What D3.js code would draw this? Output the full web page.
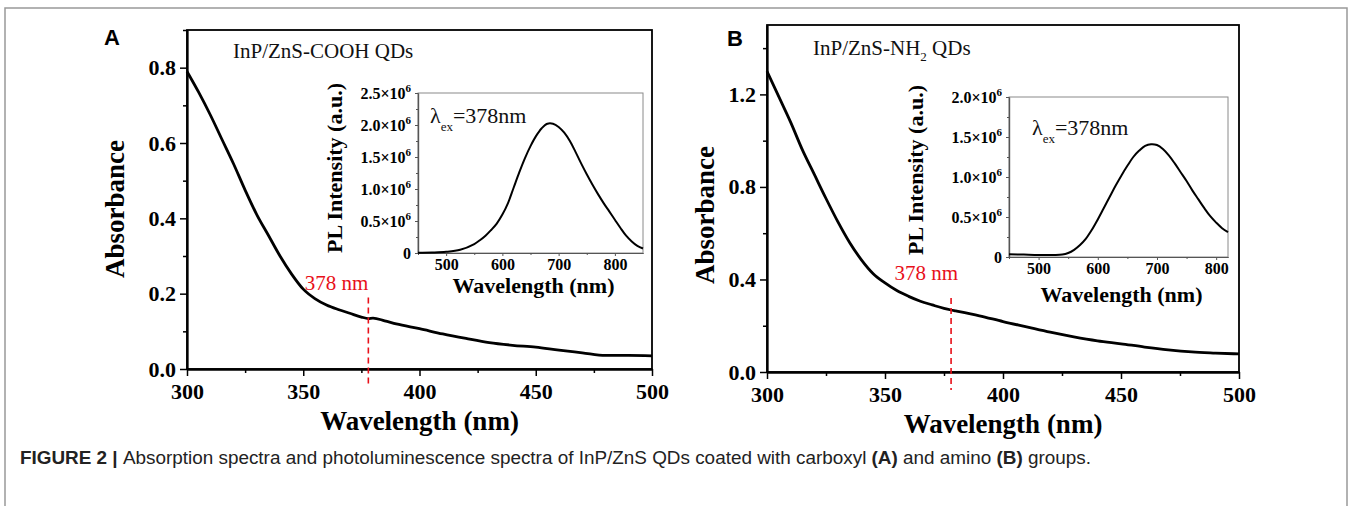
<!DOCTYPE html>
<html lang="en">
<head>
<meta charset="UTF-8" />
<title>Figure 2 - Absorption and PL spectra</title>
<script src="https://cdn.jsdelivr.net/npm/d3@7"></script>
<style>
  body { margin: 0; background: #fff; }
  svg { display: block; }
  .serif { font-family: "Liberation Serif", "Times New Roman", serif; }
</style>
</head>
<body>
<script>
// absorbance spectra (main plots)
var absWavelengthA = [300,305,310,315,320,325,330,335,340,345,350,355,360,365,370,375,378,380,385,390,400,410,420,430,440,450,460,470,480,490,500];
var absValuesA = [0.79,0.735,0.675,0.61,0.545,0.475,0.41,0.355,0.30,0.252,0.212,0.187,0.17,0.158,0.148,0.138,0.134,0.135,0.128,0.12,0.107,0.093,0.081,0.07,0.063,0.058,0.05,0.043,0.036,0.036,0.035];
var absWavelengthB = [300,305,310,315,320,325,330,335,340,345,350,355,360,365,370,375,378,380,390,400,410,420,430,440,450,460,470,480,490,500];
var absValuesB = [1.30,1.19,1.08,0.96,0.855,0.75,0.65,0.56,0.485,0.425,0.385,0.352,0.327,0.306,0.29,0.275,0.268,0.264,0.243,0.218,0.195,0.172,0.152,0.135,0.122,0.108,0.096,0.087,0.082,0.078];

// PL spectra (insets), intensity in units of 10^6
var plWavelengthA = [450,475,500,525,550,560,570,580,590,600,610,620,630,640,650,660,670,680,690,700,710,720,730,740,750,760,770,780,790,800,810,820,830,840,850];
var plValuesA = [0.005,0.008,0.018,0.05,0.14,0.2,0.27,0.36,0.46,0.6,0.78,1.02,1.26,1.48,1.67,1.83,1.95,2.02,2.02,1.97,1.88,1.75,1.58,1.40,1.23,1.07,0.92,0.78,0.65,0.52,0.39,0.27,0.18,0.11,0.07];
var plWavelengthB = [450,475,500,525,540,550,560,570,580,590,600,610,620,630,640,650,660,670,680,690,700,710,720,730,740,750,760,770,780,790,800,810,820];
var plValuesB = [0.035,0.03,0.025,0.025,0.03,0.05,0.09,0.15,0.23,0.34,0.47,0.61,0.75,0.89,1.02,1.14,1.25,1.33,1.39,1.41,1.40,1.35,1.27,1.17,1.06,0.95,0.83,0.72,0.61,0.51,0.43,0.36,0.31];

// ticks
var wlTicks = [300,350,400,450,500];
var wlMinor = [325,375,425,475];
var absTicksA = [0,0.2,0.4,0.6,0.8];
var absMinorA = [0.1,0.3,0.5,0.7,0.9];
var absTicksB = [0,0.4,0.8,1.2];
var absMinorB = [0.2,0.6,1.0,1.4];
var plWlTicks = [500,600,700,800];
var plWlMinor = [450,550,650,750,850];
var plTicksA = [0,0.5,1,1.5,2,2.5];
var plTicksB = [0,0.5,1,1.5,2];
var excitation = 378;

var W = 1352, H = 506;
var svg = d3.select("body").append("svg").attr("width", W).attr("height", H);

// page border (top + sides)
svg.append("path")
  .attr("d", "M5,506 L5,8 L1347,8 L1347,506")
  .attr("fill", "none").attr("stroke", "#999").attr("stroke-width", 1.5);

var panels = [
  { letter: "A", lx: 104, ly: 45,
    left: 187, right: 652, top: 30, bottom: 369, yMax: 0.9,
    wl: absWavelengthA, abs: absValuesA, yTicks: absTicksA, yMinor: absMinorA, yFmt: d3.format(".1f"),
    title: "InP/ZnS-COOH QDs", sub: null, titleX: 233, titleY: 58,
    ylabX: 124, ylabY: 209, dashTop: 0.19, labelDx: 0, labelY: 290,
    inset: { left: 418, right: 643, top: 93, bottom: 253, xMax: 850, yMax: 2.5,
             wl: plWavelengthA, pl: plValuesA, yTicks: plTicksA, lamX: 430, lamY: 123,
             ytX: 342, ytY: 168, xtY: 293 } },
  { letter: "B", lx: 727, ly: 46,
    left: 767, right: 1239, top: 25, bottom: 372, yMax: 1.5,
    wl: absWavelengthB, abs: absValuesB, yTicks: absTicksB, yMinor: absMinorB, yFmt: d3.format(".1f"),
    title: "InP/ZnS-NH", sub: "2", titleX: 813, titleY: 55,
    ylabX: 714, ylabY: 215, dashTop: 0.32, labelDx: 7, labelY: 280,
    inset: { left: 1009, right: 1228, top: 97, bottom: 257, xMax: 820, yMax: 2.0,
             wl: plWavelengthB, pl: plValuesB, yTicks: plTicksB, lamX: 1032, lamY: 135,
             ytX: 923, ytY: 170, xtY: 302 } }
];

panels.forEach(function (p) {
  var g = svg.append("g");
  var x = d3.scaleLinear().domain([300, 500]).range([p.left, p.right]);
  var y = d3.scaleLinear().domain([0, p.yMax]).range([p.bottom, p.top]);

  // frame
  g.append("rect")
    .attr("x", p.left).attr("y", p.top)
    .attr("width", p.right - p.left).attr("height", p.bottom - p.top)
    .attr("fill", "none").attr("stroke", "#000").attr("stroke-width", 1.8);

  // axes
  g.append("g").attr("class", "serif")
    .attr("transform", "translate(0," + p.bottom + ")")
    .call(d3.axisBottom(x).tickValues(wlTicks).tickSize(7).tickPadding(7).tickSizeOuter(0));
  g.append("g").attr("transform", "translate(0," + p.bottom + ")")
    .call(d3.axisBottom(x).tickValues(wlMinor).tickSize(4).tickFormat("").tickSizeOuter(0));
  g.append("g").attr("class", "serif")
    .attr("transform", "translate(" + p.left + ",0)")
    .call(d3.axisLeft(y).tickValues(p.yTicks).tickFormat(p.yFmt).tickSize(7).tickPadding(4).tickSizeOuter(0));
  g.append("g").attr("transform", "translate(" + p.left + ",0)")
    .call(d3.axisLeft(y).tickValues(p.yMinor).tickSize(4).tickFormat("").tickSizeOuter(0));
  g.selectAll(".domain").attr("stroke", "#000").attr("stroke-width", 1.8);
  g.selectAll(".tick line").attr("stroke", "#000").attr("stroke-width", 1.5);
  g.selectAll(".tick text").attr("font-size", 22).attr("font-weight", "bold")
    .attr("font-family", "Liberation Serif").attr("fill", "#000");

  // absorbance curve
  var line = d3.line().x(function (d, i) { return x(p.wl[i]); }).y(function (d) { return y(d); })
    .curve(d3.curveMonotoneX);
  g.append("path").datum(p.abs)
    .attr("d", line).attr("fill", "none").attr("stroke", "#000")
    .attr("stroke-width", 2.8).attr("stroke-linejoin", "round");

  // excitation marker
  g.append("line")
    .attr("x1", x(excitation)).attr("x2", x(excitation))
    .attr("y1", y(p.dashTop)).attr("y2", p.bottom + 18)
    .attr("stroke", "#e8101a").attr("stroke-width", 1.6).attr("stroke-dasharray", "6,4");
  g.append("text").attr("class", "serif")
    .attr("x", x(excitation) + p.labelDx).attr("y", p.labelY)
    .attr("text-anchor", "end").attr("font-size", 21).attr("fill", "#e8101a")
    .text(excitation + " nm");

  // titles
  g.append("text").attr("font-family", "Liberation Sans").attr("font-weight", "bold")
    .attr("font-size", 22).attr("x", p.lx).attr("y", p.ly).text(p.letter);
  var t = g.append("text").attr("class", "serif").attr("font-size", 21)
    .attr("x", p.titleX).attr("y", p.titleY).attr("fill", "#111").text(p.title);
  if (p.sub) {
    t.append("tspan").attr("dy", 6).attr("font-size", 13).text(p.sub);
    t.append("tspan").attr("dy", -6).text(" QDs");
  }
  g.append("text").attr("class", "serif").attr("font-weight", "bold").attr("font-size", 27)
    .attr("text-anchor", "middle")
    .attr("transform", "translate(" + p.ylabX + "," + p.ylabY + ") rotate(-90)")
    .text("Absorbance");
  g.append("text").attr("class", "serif").attr("font-weight", "bold").attr("font-size", 27)
    .attr("text-anchor", "middle")
    .attr("x", (p.left + p.right) / 2).attr("y", p.bottom + 61)
    .text("Wavelength (nm)");

  // inset PL spectrum
  var q = p.inset;
  var gi = svg.append("g");
  var xi = d3.scaleLinear().domain([450, q.xMax]).range([q.left, q.right]);
  var yi = d3.scaleLinear().domain([0, q.yMax]).range([q.bottom, q.top]);
  gi.append("rect")
    .attr("x", q.left).attr("y", q.top)
    .attr("width", q.right - q.left).attr("height", q.bottom - q.top)
    .attr("fill", "#fff").attr("stroke", "#8a8a8a").attr("stroke-width", 1);
  gi.append("g").attr("transform", "translate(0," + q.bottom + ")")
    .call(d3.axisBottom(xi).tickValues(plWlTicks).tickSize(3).tickPadding(3).tickSizeOuter(0));
  gi.append("g").attr("transform", "translate(0," + q.bottom + ")")
    .call(d3.axisBottom(xi).tickValues(plWlMinor.filter(function (v) { return v < q.xMax; }))
      .tickSize(2).tickFormat("").tickSizeOuter(0));
  var yiAxis = gi.append("g").attr("transform", "translate(" + q.left + ",0)")
    .call(d3.axisLeft(yi).tickValues(q.yTicks).tickSize(3).tickPadding(4).tickSizeOuter(0)
      .tickFormat(function () { return ""; }));
  gi.append("g").attr("transform", "translate(" + q.left + ",0)")
    .call(d3.axisLeft(yi).tickValues(q.yTicks.slice(0, -1).map(function (v) { return v + 0.25; }))
      .tickSize(2).tickFormat("").tickSizeOuter(0));
  gi.selectAll(".domain").attr("stroke", "#555").attr("stroke-width", 1.2);
  gi.selectAll(".tick line").attr("stroke", "#555");
  gi.selectAll(".tick text").attr("font-size", 16).attr("font-weight", "bold")
    .attr("font-family", "Liberation Serif").attr("fill", "#000");

  // y tick labels with exponent
  yiAxis.selectAll(".tick text").each(function (d) {
    var tx = d3.select(this).text(null);
    if (d === 0) { tx.text("0"); return; }
    tx.text(d3.format(".1f")(d) + "\u00d710");
    tx.append("tspan").attr("dy", -7).attr("font-size", 11).text("6");
  });

  var pline = d3.line().x(function (d, i) { return xi(q.wl[i]); }).y(function (d) { return yi(d); })
    .curve(d3.curveCatmullRom);
  gi.append("path").datum(q.pl)
    .attr("d", pline).attr("fill", "none").attr("stroke", "#000").attr("stroke-width", 2);

  var lam = gi.append("text").attr("class", "serif").attr("font-size", 22)
    .attr("x", q.lamX).attr("y", q.lamY).attr("fill", "#111").text("\u03bb");
  lam.append("tspan").attr("dy", 8).attr("font-size", 13).text("ex");
  lam.append("tspan").attr("dy", -8).text("=" + excitation + "nm");

  gi.append("text").attr("class", "serif").attr("font-weight", "bold").attr("font-size", 22)
    .attr("text-anchor", "middle")
    .attr("transform", "translate(" + q.ytX + "," + q.ytY + ") rotate(-90)")
    .text("PL Intensity (a.u.)");
  gi.append("text").attr("class", "serif").attr("font-weight", "bold").attr("font-size", 22)
    .attr("text-anchor", "middle")
    .attr("x", (q.left + q.right) / 2 + 3).attr("y", q.xtY)
    .text("Wavelength (nm)");
});

// caption
var cap = svg.append("text").attr("x", 20).attr("y", 464)
  .attr("font-family", "Liberation Sans").attr("font-size", 18.9).attr("fill", "#222");
cap.append("tspan").attr("font-weight", "bold").text("FIGURE 2 | ");
cap.append("tspan").text("Absorption spectra and photoluminescence spectra of InP/ZnS QDs coated with carboxyl ");
cap.append("tspan").attr("font-weight", "bold").text("(A)");
cap.append("tspan").text(" and amino ");
cap.append("tspan").attr("font-weight", "bold").text("(B)");
cap.append("tspan").text(" groups.");
</script>
</body>
</html>
